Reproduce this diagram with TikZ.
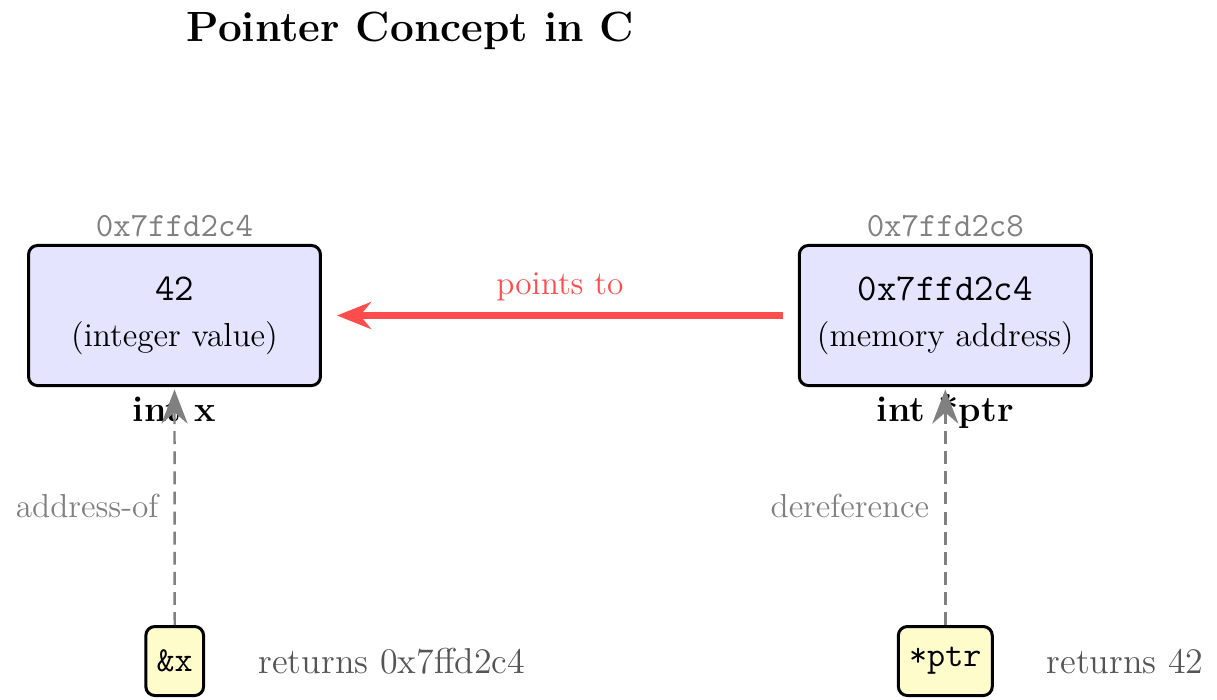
\documentclass[tikz,border=0pt]{standalone}
\usepackage{fontspec}
\usetikzlibrary{arrows.meta}
\definecolor{cellfill}{RGB}{228,228,255}
\definecolor{opfill}{RGB}{255,252,204}
\definecolor{ptrred}{RGB}{255,77,77}
\definecolor{labgray}{RGB}{128,128,128}
\definecolor{retgray}{RGB}{85,85,85}
\begin{document}
\begin{tikzpicture}[x=0.33333pt,y=-0.33333pt,
  memcell/.style={draw=black, line width=1pt, rounded corners=3pt, fill=cellfill,
    minimum width=97.3pt, minimum height=46.7pt, inner sep=0pt},
  opbox/.style={draw=black, line width=1pt, rounded corners=3pt, fill=opfill,
    minimum height=23pt, inner xsep=3.6pt, inner ysep=0pt, font=\fontsize{11.7}{14}\selectfont\ttfamily},
  celltt/.style={anchor=base, inner sep=0pt, font=\fontsize{12.6}{15}\selectfont\ttfamily},
  cellnote/.style={anchor=base, inner sep=0pt, font=\fontsize{11.1}{13}\selectfont},
  addrlab/.style={anchor=base, inner sep=0pt, text=labgray, font=\fontsize{11.3}{13}\selectfont\ttfamily},
  varlab/.style={anchor=base, inner sep=0pt, font=\fontsize{12}{14}\selectfont\bfseries},
  retlab/.style={anchor=base west, inner sep=0pt, text=retgray, font=\fontsize{12}{14}\selectfont},
  oparrow/.style={draw=labgray, line width=0.8pt, dash pattern=on 4.3pt off 2.4pt,
    -{Stealth[length=4mm, width=8.7pt]}, shorten >=0.8pt},
  oplab/.style={text=labgray, font=\fontsize{11.1}{13}\selectfont, inner sep=5pt},
  redarrow/.style={draw=ptrred, line width=2.4pt, -{Stealth[length=4mm, width=9pt]}, shorten >=5pt, shorten <=5pt},
  redlab/.style={text=ptrred, font=\fontsize{11.1}{13}\selectfont, inner sep=3.5pt}
]
\useasboundingbox (0,0) rectangle (1217,699);

% title
\node[anchor=base, inner sep=0pt, font=\fontsize{14.1}{17}\selectfont\bfseries] (title) at (410.5,41.5) {Pointer Concept in C};

% memory cells
\node[memcell] (x) at (174.5,315.5) {};
\node[memcell] (ptr) at (945.3,315.5) {};

\node[celltt] (xval) at (174.5,300) {42};
\node[cellnote] (xnote) at (174.5,346) {(integer value)};
\node[celltt] (pval) at (945.3,300) {0x7ffd2c4};
\node[cellnote] (pnote) at (945.3,346) {(memory address)};

\node[addrlab] (xaddr) at (174.5,236) {0x7ffd2c4};
\node[addrlab] (paddr) at (945.3,236) {0x7ffd2c8};

\node[varlab] (xname) at (174.5,421.7) {int x};
\node[varlab] (pname) at (945.3,421.7) {int *ptr};

% operator boxes
\node[opbox] (amp) at (174.7,661) {\&x};
\node[opbox] (deref) at (945.3,661) {*ptr};

\node[retlab] (ampret) at (258,673.3) {returns 0x7ffd2c4};
\node[retlab] (derefret) at (1046,673.3) {returns 42};

% connectors
\draw[redarrow] (ptr.west) -- (x.east) node[midway, above, redlab] {points to};
\draw[oparrow] (amp.north) -- (x.south) node[midway, left, oplab] {address-of};
\draw[oparrow] (deref.north) -- (ptr.south) node[midway, left, oplab] {dereference};
\end{tikzpicture}
\end{document}
